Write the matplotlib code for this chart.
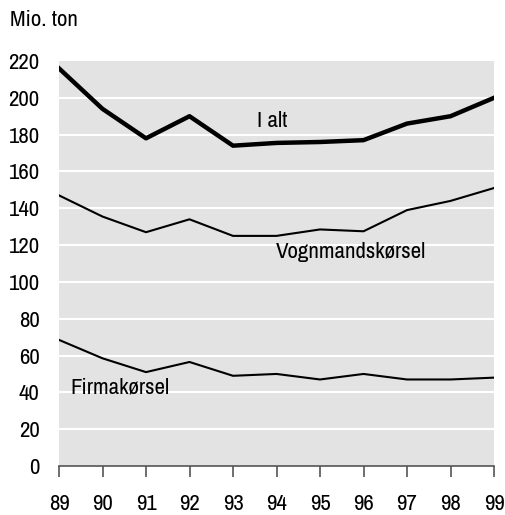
import matplotlib.pyplot as plt
import matplotlib.font_manager as fm

# condensed font like Arial Narrow, if one is installed
installed = {f.name for f in fm.fontManager.ttflist}
narrow = ['Liberation Sans Narrow', 'Arial Narrow', 'Archivo Narrow', 'PT Sans Narrow',
          'Roboto Condensed', 'Pragati Narrow', 'Fira Sans Condensed',
          'IBM Plex Sans Condensed', 'Encode Sans Condensed']
fam = next((n for n in narrow if n in installed), 'Liberation Sans')
plt.rcParams['font.family'] = [fam, 'DejaVu Sans']
fs = 16.5 if fam != 'Liberation Sans' else 14

years = [89, 90, 91, 92, 93, 94, 95, 96, 97, 98, 99]
i_alt = [216, 194, 178, 190, 174, 175.5, 176, 177, 186, 190, 200]
vognmand = [147, 135.5, 127, 134, 125, 125, 128.5, 127.5, 139, 144, 151]
firma = [68.5, 58.5, 51, 56.5, 49, 50, 47, 50, 47, 47, 48]
yticks = list(range(0, 221, 20))

fig = plt.figure(figsize=(5.06, 5.15), dpi=100)
ax = fig.add_axes([59/506, 1 - 466/515, 435/506, 405/515])
ax.set_facecolor('#e3e3e3')

# white grid lines, none at the top edge
for y in yticks[1:-1]:
    ax.axhline(y, color='white', lw=1.5, zorder=1)

ax.plot(years, i_alt, color='black', lw=3.2, zorder=3)
ax.plot(years, vognmand, color='black', lw=1.5, zorder=3)
ax.plot(years, firma, color='black', lw=1.5, zorder=3)

ax.text(93.55, 187.5, 'I alt', fontsize=fs, va='center', ha='left')
ax.text(93.98, 116, 'Vognmandskørsel', fontsize=fs, va='center', ha='left')
ax.text(89.25, 42.5, 'Firmakørsel', fontsize=fs, va='center', ha='left')

ax.set_xlim(89, 99)
ax.set_ylim(0, 220)
ax.set_xticks(years)
ax.set_xticklabels([str(y) for y in years])
ax.set_yticks(yticks)

for s in ['top', 'right', 'left']:
    ax.spines[s].set_visible(False)
ax.spines['bottom'].set_color('#555555')
ax.spines['bottom'].set_linewidth(1.2)
ax.tick_params(axis='x', direction='out', length=8, width=1.2, color='#555555',
               pad=12, labelsize=fs)
ax.tick_params(axis='y', length=0, pad=14, labelsize=fs)

fig.text(10/506, 1 - 20/515, 'Mio. ton', fontsize=fs, va='center', ha='left')

fig.savefig('out.png', dpi=100)
